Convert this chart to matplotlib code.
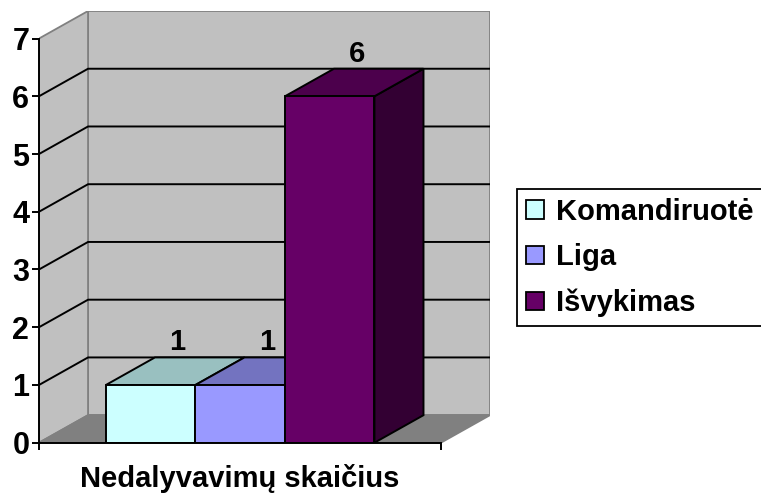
import matplotlib
matplotlib.use('Agg')
import matplotlib.pyplot as plt
from matplotlib.patches import Polygon, Patch

# data
categories = ['Komandiruotė', 'Liga', 'Išvykimas']
values = [1, 1, 6]
front_colors = ['#CCFFFF', '#9999FF', '#660066']
top_colors = ['#99C0C0', '#7373C0', '#4C004C']
side_colors = ['#99C0C0', '#7373C0', '#330033']
y_ticks = [0, 1, 2, 3, 4, 5, 6, 7]
x_label = 'Nedalyvavimų skaičius'

plt.rcParams['font.family'] = ['Liberation Sans', 'DejaVu Sans']
plt.rcParams['font.weight'] = 'bold'

# depth offset of the 3D box in data units
dx, dy = 0.122, 0.477
ymax = 7
bar_w = 0.2227
start = 0.1665

fig = plt.figure(figsize=(7.61, 4.93), dpi=100)
ax = fig.add_axes([0.05125, 0.102, 0.5926, 0.8757])
ax.set_xlim(0, 1 + dx)
ax.set_ylim(0, ymax + dy)

wall = '#C0C0C0'
edge = '#808080'
# back wall, left wall, floor
ax.add_patch(Polygon([(dx, dy), (1 + dx, dy), (1 + dx, ymax + dy), (dx, ymax + dy)],
                     closed=True, fc=wall, ec=edge, lw=1.3, zorder=1))
ax.add_patch(Polygon([(0, 0), (dx, dy), (dx, ymax + dy), (0, ymax)],
                     closed=True, fc=wall, ec=edge, lw=1.3, zorder=1))
ax.add_patch(Polygon([(0, 0), (1, 0), (1 + dx, dy), (dx, dy)],
                     closed=True, fc='#808080', ec=edge, lw=1.3, zorder=1))

# gridlines on walls
for k in y_ticks[1:-1]:
    ax.plot([0, dx, 1 + dx], [k, k + dy, k + dy], color='black', lw=1.4, zorder=2)

# bars
for i, (cat, v) in enumerate(zip(categories, values)):
    x0 = start + i * bar_w
    x1 = x0 + bar_w
    ax.add_patch(Polygon([(x1, 0), (x1 + dx, dy), (x1 + dx, v + dy), (x1, v)],
                         closed=True, fc=side_colors[i], ec='black', lw=1.4, zorder=3 + i))
    ax.add_patch(Polygon([(x0, v), (x1, v), (x1 + dx, v + dy), (x0 + dx, v + dy)],
                         closed=True, fc=top_colors[i], ec='black', lw=1.4, zorder=3 + i))
    ax.add_patch(Polygon([(x0, 0), (x1, 0), (x1, v), (x0, v)],
                         closed=True, fc=front_colors[i], ec='black', lw=1.4, zorder=3 + i))
    ax.text(x0 + bar_w / 2 + dx * 0.55, v + dy + 0.02, str(v), ha='center', va='bottom',
            fontsize=21, fontweight='bold', zorder=10)

# axes styling
for s in ['top', 'right']:
    ax.spines[s].set_visible(False)
ax.spines['left'].set_bounds(0, ymax)
ax.spines['bottom'].set_bounds(0, 1)
ax.spines['left'].set_linewidth(1.4)
ax.spines['bottom'].set_linewidth(1.4)
ax.spines['left'].set_zorder(12)
ax.spines['bottom'].set_zorder(12)
ax.set_yticks(y_ticks)
ax.set_yticklabels([str(t) for t in y_ticks], fontsize=22, fontweight='bold')
ax.tick_params(axis='y', direction='out', length=5, width=1.4, pad=2)
ax.set_xticks([0, 1])
ax.set_xticklabels(['', ''])
ax.tick_params(axis='x', which='major', direction='out', length=5, width=1.4)
ax.set_xticks([0.5], [x_label], minor=True)
ax.tick_params(axis='x', which='minor', length=0, pad=15, labelsize=21)
for lab in ax.get_xticklabels(minor=True):
    lab.set_fontweight('bold')

handles = [Patch(fc=c, ec='black', lw=1.3) for c in front_colors]
leg = fig.legend(handles, categories, loc='upper left', bbox_to_anchor=(0.68, 0.617),
                 frameon=True, fancybox=False, framealpha=1, edgecolor='black',
                 prop={'size': 21, 'weight': 'bold'}, handlelength=0.62, handleheight=0.6,
                 handletextpad=0.4, labelspacing=0.6, borderpad=0.3, borderaxespad=0)
leg.get_frame().set_linewidth(1.3)

fig.savefig('out.png', dpi=100)
